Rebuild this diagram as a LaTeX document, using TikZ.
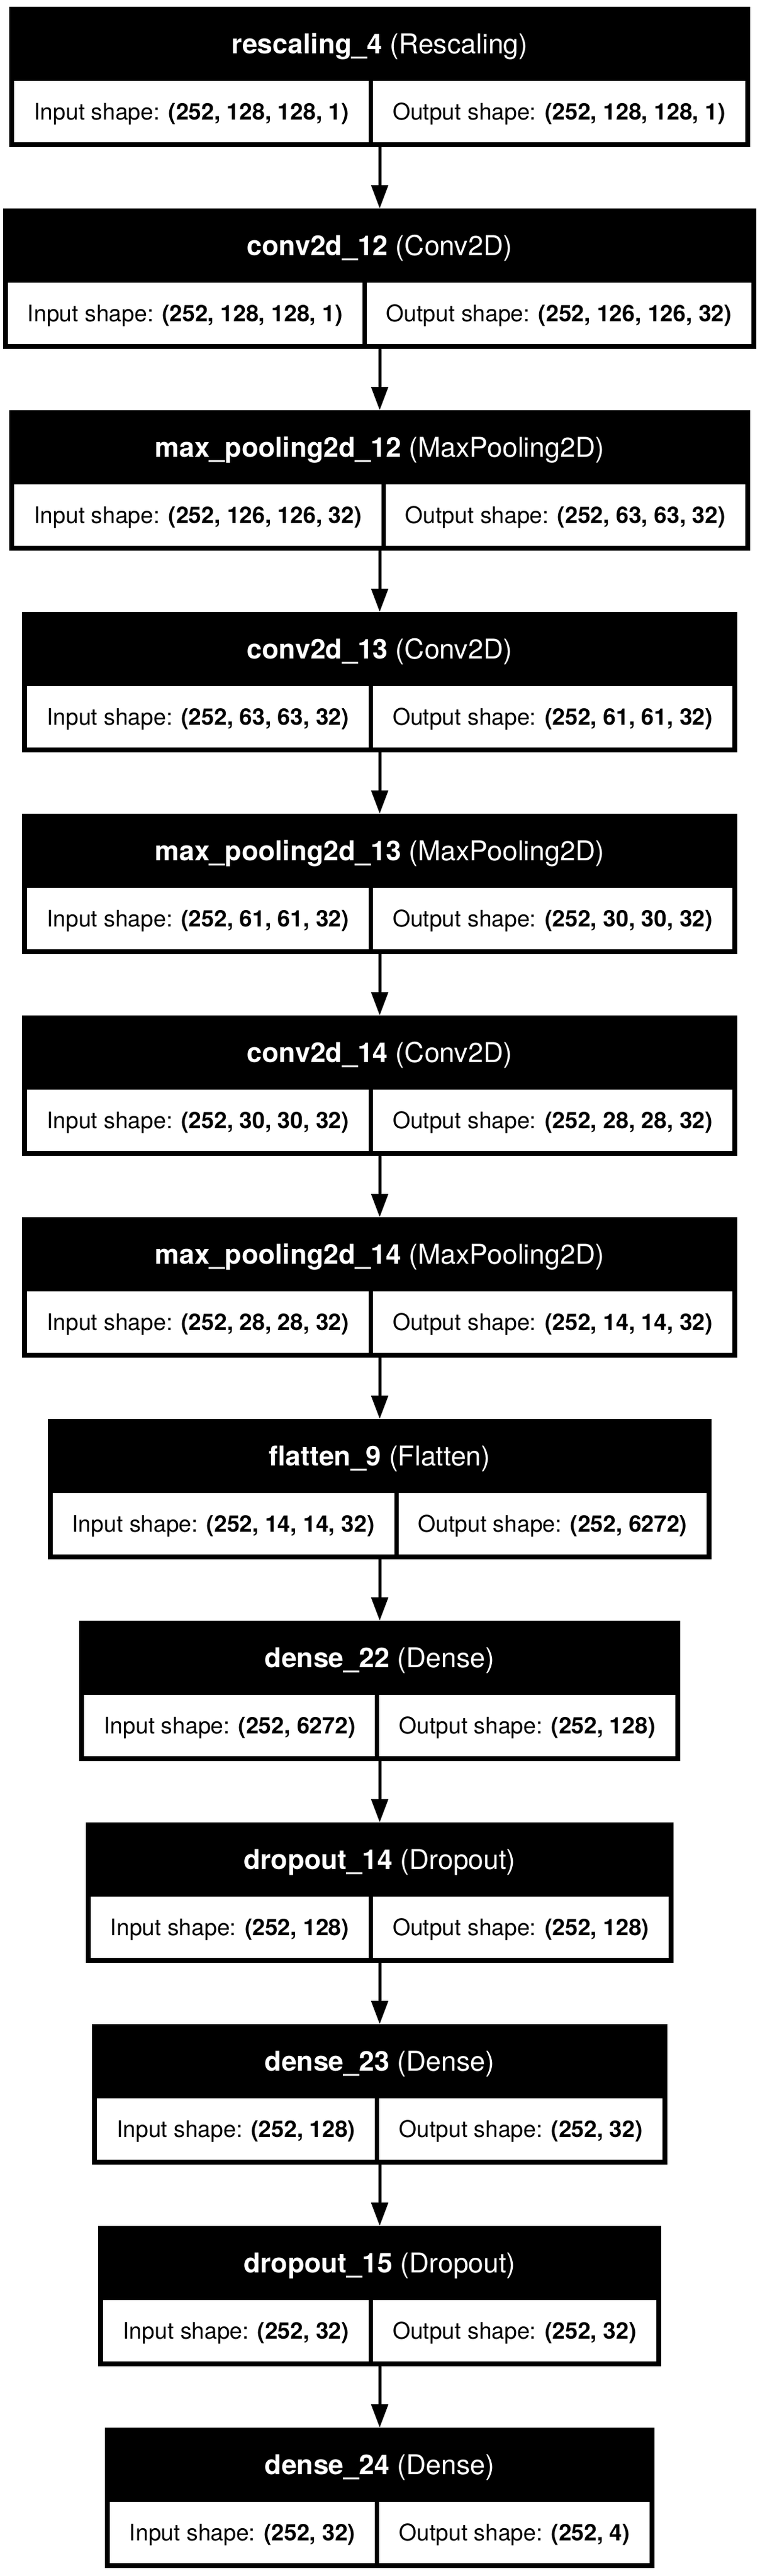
\documentclass[tikz,border=0pt]{standalone}
\usepackage{fontspec}
\setmainfont{TeX Gyre Heros}
\usetikzlibrary{positioning,arrows.meta,fit,backgrounds}

\begin{document}
\begin{tikzpicture}[
    layerhead/.style={inner sep=0pt, outer sep=0pt, minimum height=60.5pt, text=white, font=\fontsize{22.3pt}{26pt}\selectfont, text height=16pt, text depth=0pt},
    shapecell/.style={fill=white, inner xsep=16pt, inner ysep=0pt, outer sep=0pt, minimum height=50pt, text height=13.4pt, text depth=0pt},
    cellrow/.style={inner sep=0pt, outer sep=0pt, column sep=3.5pt},
    layerframe/.style={fill=black, inner xsep=4pt, inner ysep=0pt, outer sep=0pt},
    font=\fontsize{18.65pt}{22pt}\selectfont
    ]
    \useasboundingbox (0,0) rectangle (619pt,-2100.5pt);
    \begin{scope}[on background layer]
        \fill[white] (0,0) rectangle (619pt,-2100.5pt);
    \end{scope}

        %rescaling_4
        \matrix (m1) [cellrow, anchor=north] at (309.5pt,-66pt) {
            \node[shapecell] (in1) {Input shape: \textbf{(252, 128, 128, 1)}}; &
            \node[shapecell] (out1) {Output shape: \textbf{(252, 128, 128, 1)}}; \\
        };
        \node[layerhead] (h1) [above=0pt of m1] {\textbf{rescaling\_4} (Rescaling)};
        \coordinate (b1) at ([yshift=-4pt]m1.south);
        \begin{scope}[on background layer]
            \node[layerframe, fit=(h1)(m1)(b1)] (l1) {};
        \end{scope}

        %conv2d_12
        \matrix (m2) [cellrow, below=110.5pt of l1] {
            \node[shapecell] (in2) {Input shape: \textbf{(252, 128, 128, 1)}}; &
            \node[shapecell] (out2) {Output shape: \textbf{(252, 126, 126, 32)}}; \\
        };
        \node[layerhead] (h2) [above=0pt of m2] {\textbf{conv2d\_12} (Conv2D)};
        \coordinate (b2) at ([yshift=-4pt]m2.south);
        \begin{scope}[on background layer]
            \node[layerframe, fit=(h2)(m2)(b2)] (l2) {};
        \end{scope}

        %max_pooling2d_12
        \matrix (m3) [cellrow, below=110.5pt of l2] {
            \node[shapecell] (in3) {Input shape: \textbf{(252, 126, 126, 32)}}; &
            \node[shapecell] (out3) {Output shape: \textbf{(252, 63, 63, 32)}}; \\
        };
        \node[layerhead] (h3) [above=0pt of m3] {\textbf{max\_pooling2d\_12} (MaxPooling2D)};
        \coordinate (b3) at ([yshift=-4pt]m3.south);
        \begin{scope}[on background layer]
            \node[layerframe, fit=(h3)(m3)(b3)] (l3) {};
        \end{scope}

        %conv2d_13
        \matrix (m4) [cellrow, below=110.5pt of l3] {
            \node[shapecell] (in4) {Input shape: \textbf{(252, 63, 63, 32)}}; &
            \node[shapecell] (out4) {Output shape: \textbf{(252, 61, 61, 32)}}; \\
        };
        \node[layerhead] (h4) [above=0pt of m4] {\textbf{conv2d\_13} (Conv2D)};
        \coordinate (b4) at ([yshift=-4pt]m4.south);
        \begin{scope}[on background layer]
            \node[layerframe, fit=(h4)(m4)(b4)] (l4) {};
        \end{scope}

        %max_pooling2d_13
        \matrix (m5) [cellrow, below=110.5pt of l4] {
            \node[shapecell] (in5) {Input shape: \textbf{(252, 61, 61, 32)}}; &
            \node[shapecell] (out5) {Output shape: \textbf{(252, 30, 30, 32)}}; \\
        };
        \node[layerhead] (h5) [above=0pt of m5] {\textbf{max\_pooling2d\_13} (MaxPooling2D)};
        \coordinate (b5) at ([yshift=-4pt]m5.south);
        \begin{scope}[on background layer]
            \node[layerframe, fit=(h5)(m5)(b5)] (l5) {};
        \end{scope}

        %conv2d_14
        \matrix (m6) [cellrow, below=110.5pt of l5] {
            \node[shapecell] (in6) {Input shape: \textbf{(252, 30, 30, 32)}}; &
            \node[shapecell] (out6) {Output shape: \textbf{(252, 28, 28, 32)}}; \\
        };
        \node[layerhead] (h6) [above=0pt of m6] {\textbf{conv2d\_14} (Conv2D)};
        \coordinate (b6) at ([yshift=-4pt]m6.south);
        \begin{scope}[on background layer]
            \node[layerframe, fit=(h6)(m6)(b6)] (l6) {};
        \end{scope}

        %max_pooling2d_14
        \matrix (m7) [cellrow, below=110.5pt of l6] {
            \node[shapecell] (in7) {Input shape: \textbf{(252, 28, 28, 32)}}; &
            \node[shapecell] (out7) {Output shape: \textbf{(252, 14, 14, 32)}}; \\
        };
        \node[layerhead] (h7) [above=0pt of m7] {\textbf{max\_pooling2d\_14} (MaxPooling2D)};
        \coordinate (b7) at ([yshift=-4pt]m7.south);
        \begin{scope}[on background layer]
            \node[layerframe, fit=(h7)(m7)(b7)] (l7) {};
        \end{scope}

        %flatten_9
        \matrix (m8) [cellrow, below=110.5pt of l7] {
            \node[shapecell] (in8) {Input shape: \textbf{(252, 14, 14, 32)}}; &
            \node[shapecell] (out8) {Output shape: \textbf{(252, 6272)}}; \\
        };
        \node[layerhead] (h8) [above=0pt of m8] {\textbf{flatten\_9} (Flatten)};
        \coordinate (b8) at ([yshift=-4pt]m8.south);
        \begin{scope}[on background layer]
            \node[layerframe, fit=(h8)(m8)(b8)] (l8) {};
        \end{scope}

        %dense_22
        \matrix (m9) [cellrow, below=110.5pt of l8] {
            \node[shapecell] (in9) {Input shape: \textbf{(252, 6272)}}; &
            \node[shapecell] (out9) {Output shape: \textbf{(252, 128)}}; \\
        };
        \node[layerhead] (h9) [above=0pt of m9] {\textbf{dense\_22} (Dense)};
        \coordinate (b9) at ([yshift=-4pt]m9.south);
        \begin{scope}[on background layer]
            \node[layerframe, fit=(h9)(m9)(b9)] (l9) {};
        \end{scope}

        %dropout_14
        \matrix (m10) [cellrow, below=110.5pt of l9] {
            \node[shapecell] (in10) {Input shape: \textbf{(252, 128)}}; &
            \node[shapecell] (out10) {Output shape: \textbf{(252, 128)}}; \\
        };
        \node[layerhead] (h10) [above=0pt of m10] {\textbf{dropout\_14} (Dropout)};
        \coordinate (b10) at ([yshift=-4pt]m10.south);
        \begin{scope}[on background layer]
            \node[layerframe, fit=(h10)(m10)(b10)] (l10) {};
        \end{scope}

        %dense_23
        \matrix (m11) [cellrow, below=110.5pt of l10] {
            \node[shapecell] (in11) {Input shape: \textbf{(252, 128)}}; &
            \node[shapecell] (out11) {Output shape: \textbf{(252, 32)}}; \\
        };
        \node[layerhead] (h11) [above=0pt of m11] {\textbf{dense\_23} (Dense)};
        \coordinate (b11) at ([yshift=-4pt]m11.south);
        \begin{scope}[on background layer]
            \node[layerframe, fit=(h11)(m11)(b11)] (l11) {};
        \end{scope}

        %dropout_15
        \matrix (m12) [cellrow, below=110.5pt of l11] {
            \node[shapecell] (in12) {Input shape: \textbf{(252, 32)}}; &
            \node[shapecell] (out12) {Output shape: \textbf{(252, 32)}}; \\
        };
        \node[layerhead] (h12) [above=0pt of m12] {\textbf{dropout\_15} (Dropout)};
        \coordinate (b12) at ([yshift=-4pt]m12.south);
        \begin{scope}[on background layer]
            \node[layerframe, fit=(h12)(m12)(b12)] (l12) {};
        \end{scope}

        %dense_24
        \matrix (m13) [cellrow, below=110.5pt of l12] {
            \node[shapecell] (in13) {Input shape: \textbf{(252, 32)}}; &
            \node[shapecell] (out13) {Output shape: \textbf{(252, 4)}}; \\
        };
        \node[layerhead] (h13) [above=0pt of m13] {\textbf{dense\_24} (Dense)};
        \coordinate (b13) at ([yshift=-4pt]m13.south);
        \begin{scope}[on background layer]
            \node[layerframe, fit=(h13)(m13)(b13)] (l13) {};
        \end{scope}

        %Lines
        \draw[->, >={Triangle[length=19pt, width=13.5pt]}, line width=2.5pt] (l1.south) -- (l2.north);
        \draw[->, >={Triangle[length=19pt, width=13.5pt]}, line width=2.5pt] (l2.south) -- (l3.north);
        \draw[->, >={Triangle[length=19pt, width=13.5pt]}, line width=2.5pt] (l3.south) -- (l4.north);
        \draw[->, >={Triangle[length=19pt, width=13.5pt]}, line width=2.5pt] (l4.south) -- (l5.north);
        \draw[->, >={Triangle[length=19pt, width=13.5pt]}, line width=2.5pt] (l5.south) -- (l6.north);
        \draw[->, >={Triangle[length=19pt, width=13.5pt]}, line width=2.5pt] (l6.south) -- (l7.north);
        \draw[->, >={Triangle[length=19pt, width=13.5pt]}, line width=2.5pt] (l7.south) -- (l8.north);
        \draw[->, >={Triangle[length=19pt, width=13.5pt]}, line width=2.5pt] (l8.south) -- (l9.north);
        \draw[->, >={Triangle[length=19pt, width=13.5pt]}, line width=2.5pt] (l9.south) -- (l10.north);
        \draw[->, >={Triangle[length=19pt, width=13.5pt]}, line width=2.5pt] (l10.south) -- (l11.north);
        \draw[->, >={Triangle[length=19pt, width=13.5pt]}, line width=2.5pt] (l11.south) -- (l12.north);
        \draw[->, >={Triangle[length=19pt, width=13.5pt]}, line width=2.5pt] (l12.south) -- (l13.north);
\end{tikzpicture}
\end{document}
